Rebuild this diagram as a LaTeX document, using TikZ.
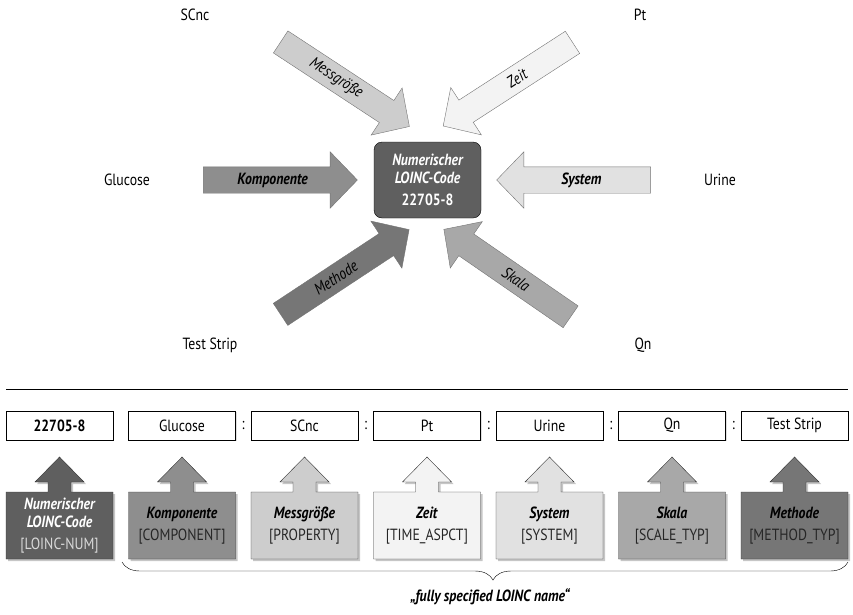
\documentclass[tikz,border=0pt,12pt]{standalone}
\usepackage{fontspec}
\setmainfont{PT Sans}[Scale=1.35, FakeStretch=0.85]
\usetikzlibrary{shapes.arrows,shadows,calc,decorations.pathreplacing}

\definecolor{codegrau}{HTML}{5F5F5F}
\definecolor{kompgrau}{HTML}{8E8E8E}
\definecolor{messgrau}{HTML}{CDCDCD}
\definecolor{zeitgrau}{HTML}{F3F3F3}
\definecolor{sysgrau}{HTML}{E1E1E1}
\definecolor{skalagrau}{HTML}{A8A8A8}
\definecolor{methgrau}{HTML}{767676}

\tikzset{
  pfeil/.style={single arrow, draw=black!55, fill=#1, minimum height=154pt,
    single arrow head extend=15pt, single arrow tip angle=92,
    inner xsep=0pt, inner ysep=13pt, outer sep=0pt},
  wert/.style={draw, thin, fill=white, minimum width=107pt, minimum height=29pt, inner sep=0pt,
    drop shadow={shadow xshift=1pt, shadow yshift=-1pt, opacity=0.25}},
  feld/.style={draw=black!80, thin,
    drop shadow={shadow xshift=2pt, shadow yshift=-2pt, opacity=0.45}},
  feldtext/.style={align=center, font=\fontsize{12}{18}\selectfont},
}

\begin{document}
\begin{tikzpicture}[x=1pt, y=1pt]
    \useasboundingbox (0,0) rectangle (853,-614);

    % Numerischer Code in der Mitte
    \node[draw, fill=codegrau, rounded corners=8pt, minimum width=107pt, minimum height=76pt,
      text=white, align=center, font=\fontsize{12}{18}\selectfont\bfseries] (code) at (427.5,-180)
      {\itshape Numerischer\\\itshape LOINC-Code\\[4pt]22705-8};

    % Pfeile zum Code: name/x/y/winkel/farbe
    \foreach \name/\x/\y/\winkel/\farbe in {messpf/339.7/-80.7/-33.3/messgrau, zeitpf/513.2/-80.7/212.9/zeitgrau,
        kompf/274/-180/0/kompgrau, syspf/580/-180/180/sysgrau,
        methpf/339.5/-275.5/33.4/methgrau, skalapf/512.5/-276.7/145.4/skalagrau} {
        \node[pfeil=\farbe, rotate=\winkel] (\name) at (\x,\y) {};
    }

    % Beschriftung der Pfeile
    \node[rotate=-33.3, font=\itshape] (messtxt) at ($(messpf.tail)!0.43!(messpf.tip)$) {Messgröße};
    \node[rotate=32.9, font=\itshape] (zeittxt) at ($(zeitpf.tail)!0.43!(zeitpf.tip)$) {Zeit};
    \node[font=\bfseries\itshape] (komptxt) at ($(kompf.tail)!0.45!(kompf.tip)$) {Komponente};
    \node[font=\bfseries\itshape] (systxt) at ($(syspf.tail)!0.45!(syspf.tip)$) {System};
    \node[rotate=33.4, font=\itshape] (methtxt) at ($(methpf.tail)!0.43!(methpf.tip)$) {Methode};
    \node[rotate=-34.6, font=\itshape] (skalatxt) at ($(skalapf.tail)!0.43!(skalapf.tip)$) {Skala};

    % Werte aussen
    \node (scnc) at (195,-15) {SCnc};
    \node (pt) at (640,-15) {Pt};
    \node (glucose) at (127,-180) {Glucose};
    \node (urine) at (720,-180) {Urine};
    \node (strip) at (210,-345) {Test Strip};
    \node (qn) at (643,-345) {Qn};

    % Trennlinie
    \draw (6,-389) -- (848,-389);

    % Obere Zeile mit Werten
    \foreach \inhalt [count=\i from 0] in {\textbf{22705-8}, Glucose, SCnc, Pt, Urine, Qn, Test Strip} {
        \node[wert] (w\i) at (59.5+122.5*\i, -425.5) {\inhalt};
    }
    \foreach \i [remember=\i as \vor (initially 1)] in {2,...,6} {
        \node (dp\i) at ($(w\vor.east)!0.5!(w\i.west)$) {:};
    }

    % Untere Zeile: Felder mit Pfeil nach oben
    \foreach \farbe [count=\i from 0] in {codegrau, kompgrau, messgrau, zeitgrau, sysgrau, skalagrau, methgrau} {
        \begin{scope}[xshift=59.5pt+122.5pt*\i]
            \draw[feld, fill=\farbe] (-53.5,-559) -- (-53.5,-492) -- (-11.5,-492) -- (-11.5,-482)
                -- (-24.5,-482) -- (0,-457) -- (24.5,-482) -- (11.5,-482) -- (11.5,-492)
                -- (53.5,-492) -- (53.5,-559) -- cycle;
        \end{scope}
    }
    \node[feldtext, text=white] (f0) at (59.5,-526)
        {\bfseries\itshape Numerischer\\\bfseries\itshape LOINC-Code\\[4pt]\textcolor{black!15}{[LOINC-NUM]}};
    \foreach \titel/\feldname [count=\i from 1] in {Komponente/COMPONENT, Messgröße/PROPERTY,
        Zeit/TIME\_ASPCT, System/SYSTEM, Skala/SCALE\_TYP, Methode/METHOD\_TYP} {
        \node[feldtext] (f\i) at (59.5+122.5*\i,-526)
            {\textbf{\textit{\titel}}\\[4pt]\textcolor{black!85}{[\feldname]}};
    }

    % Klammer unten
    \coordinate (klinks) at (122,-562);
    \coordinate (krechts) at (848,-562);
    \draw[decorate, decoration={brace, mirror, amplitude=18pt, aspect=0.511}] (klinks) -- (krechts);
    \node[font=\bfseries\itshape] (name) at (490,-597) {„fully specified LOINC name“};
\end{tikzpicture}
\end{document}
